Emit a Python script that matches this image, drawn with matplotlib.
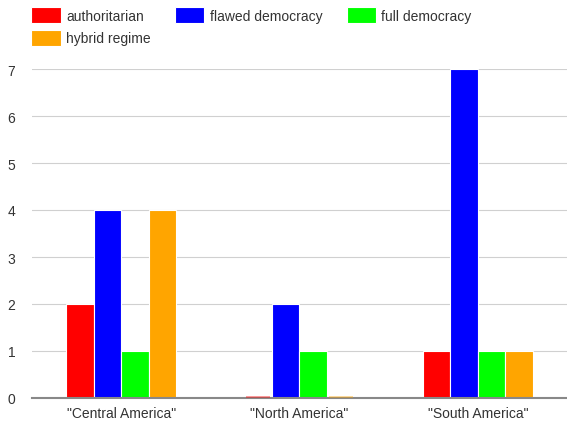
import matplotlib
matplotlib.use("Agg")
import matplotlib.pyplot as plt
import numpy as np

plt.rcParams['font.family'] = ['Liberation Sans', 'DejaVu Sans']

categories = ['"Central America"', '"North America"', '"South America"']
series = ['authoritarian', 'flawed democracy', 'full democracy', 'hybrid regime']
values = {
    'authoritarian': [2, 0, 1],
    'flawed democracy': [4, 2, 7],
    'full democracy': [1, 1, 1],
    'hybrid regime': [4, 0, 1],
}
colors = ['#ff0000', '#0000ff', '#00ff00', '#ffa500']
yticks = [0, 1, 2, 3, 4, 5, 6, 7]

fig = plt.figure(figsize=(5.67, 4.27), dpi=100)
ax = fig.add_axes([32/567, 28/427, 535/567, 329/427])

x = np.arange(len(categories))
bw = 0.155
handles = []
for i, (s, c) in enumerate(zip(series, colors)):
    off = (i - 1.5) * bw
    h = ax.bar(x + off, values[s], width=bw, color=c, edgecolor='white',
               linewidth=0.8, label=s, zorder=3)
    handles.append(h)
    for xi, v in zip(x, values[s]):
        if v == 0:
            ax.plot([xi + off - bw/2 + 0.01, xi + off + bw/2 - 0.01], [0.02, 0.02],
                    color=c, alpha=0.45, lw=1.2, zorder=6, solid_capstyle='butt')

ax.set_xlim(-0.5, 2.5)
ax.set_ylim(0, 7)
ax.set_yticks(yticks)
ax.set_xticks(x)
ax.set_xticklabels(categories)
ax.grid(axis='y', color='#d0d0d0', lw=0.8, zorder=0)
for sp in ['top', 'right', 'left']:
    ax.spines[sp].set_visible(False)
ax.spines['bottom'].set_color('#888888')
ax.spines['bottom'].set_linewidth(1.5)
ax.spines['bottom'].set_zorder(5)
ax.tick_params(axis='both', length=0, labelsize=10, colors='#333333')
ax.tick_params(axis='y', pad=12)
ax.tick_params(axis='x', pad=6)

order = [0, 3, 1, 2]
leg = fig.legend(handles=[handles[i] for i in order],
                 labels=[series[i] for i in order], loc='upper left',
                 bbox_to_anchor=(23/567, 1.0), ncol=3, frameon=False,
                 fontsize=10, handlelength=2.1, handleheight=1.4,
                 handletextpad=0.4, columnspacing=1.75, labelspacing=0.45,
                 borderaxespad=0.2)
for t in leg.get_texts():
    t.set_color('#333333')

fig.savefig('out.png', dpi=100)
